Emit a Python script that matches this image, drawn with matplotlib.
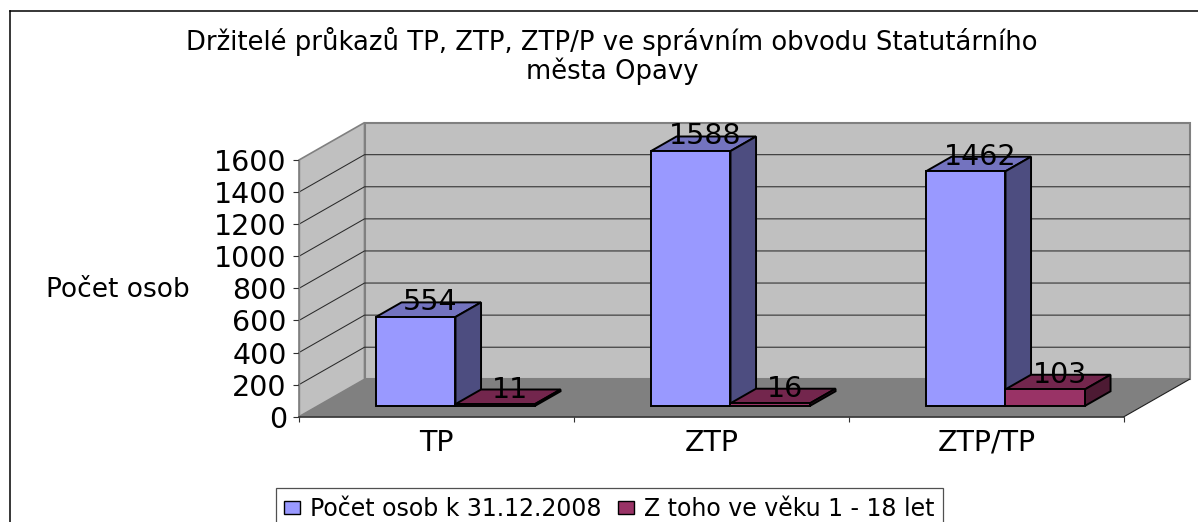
import matplotlib
matplotlib.use("Agg")
import matplotlib.pyplot as plt
from matplotlib.patches import Polygon, Patch
from matplotlib.lines import Line2D

FONT = ['DejaVu Sans']
plt.rcParams['font.family'] = FONT

title = "Držitelé průkazů TP, ZTP, ZTP/P ve správním obvodu Statutárního\nměsta Opavy"
ylabel = "Počet osob"
categories = ["TP", "ZTP", "ZTP/TP"]
total = [554, 1588, 1462]
minors = [11, 16, 103]
series_names = ["Počet osob k 31.12.2008", "Z toho ve věku 1 - 18 let"]
yticks = [0, 200, 400, 600, 800, 1000, 1200, 1400, 1600]

W, H = 1198, 522
fig = plt.figure(figsize=(W / 100, H / 100), dpi=100, facecolor='white')
ax = fig.add_axes([299 / W, 1 - 416.7 / H, 825 / W, 256.7 / H])
ax.set_xlim(0, 3)
ax.set_ylim(0, 1600)
ax.patch.set_visible(False)

# depth offsets, expressed in data units of the front plane
PX = 3 / 825
PY = 1600 / 256.7
DX, DY = 65.5 * PX, 37.4 * PY
BAR_W = 79.5 * PX
BAR_GAP = (275 - 2 * 79.5) / 2 * PX
D0, D1 = 0.29, 0.68


def poly(pts, fc, ec='none', lw=0, z=1):
    ax.add_patch(Polygon(pts, closed=True, fc=fc, ec=ec, lw=lw, zorder=z,
                         clip_on=False, joinstyle='miter'))


# walls and floor
WALL = '#C0C0C0'
EDGE = '#808080'
poly([(DX, DY), (3 + DX, DY), (3 + DX, 1600 + DY), (DX, 1600 + DY)], WALL, EDGE, 1.5, 1)
poly([(0, 0), (DX, DY), (DX, 1600 + DY), (0, 1600)], WALL, EDGE, 1.2, 1)
poly([(0, 0), (3, 0), (3 + DX, DY), (DX, DY)], '#808080', z=2)
for v in yticks[1:-1]:
    ax.plot([0, DX, 3 + DX], [v, v + DY, v + DY], color='#2A2A2A', lw=0.75, zorder=1.5,
            clip_on=False)
ax.plot([3, 3 + DX], [0, DY], color='#202020', lw=0.8, zorder=2.5, clip_on=False)


def bar3d(x, v, front, top, side, z):
    x0, x1 = x + D0 * DX, x + D0 * DX + BAR_W
    y0 = D0 * DY
    y1 = y0 + v
    dx, dy = (D1 - D0) * DX, (D1 - D0) * DY
    kw = dict(ec='black', lw=1.4, z=z)
    poly([(x0, y1), (x1, y1), (x1 + dx, y1 + dy), (x0 + dx, y1 + dy)], top, **kw)
    poly([(x1, y0), (x1 + dx, y0 + dy), (x1 + dx, y1 + dy), (x1, y1)], side, **kw)
    poly([(x0, y0), (x1, y0), (x1, y1), (x0, y1)], front, **kw)
    return (x0 + x1) / 2 + dx, y1 + dy


LABEL_FS = 20.5
LABEL_SHIFT = 11 * PX
for i, (a, b) in enumerate(zip(total, minors)):
    xa = i + BAR_GAP
    xb = xa + BAR_W
    lx, ly = bar3d(xa, a, '#9999FF', '#7373BF', '#4D4D80', 3 + i)
    ax.text(lx - LABEL_SHIFT, ly, str(a), ha='center', va='center', fontsize=LABEL_FS,
            color='black', zorder=10, clip_on=False)
    lx, ly = bar3d(xb, b, '#993366', '#73264D', '#4D1A33', 3.5 + i)
    ax.text(lx - LABEL_SHIFT, ly, str(b), ha='center', va='center', fontsize=LABEL_FS,
            color='black', zorder=10, clip_on=False)

# axes
for s in ('top', 'right'):
    ax.spines[s].set_visible(False)
ax.spines['left'].set_color(EDGE)
ax.spines['left'].set_linewidth(1.0)
ax.spines['bottom'].set_color('#303030')
ax.spines['bottom'].set_linewidth(1.2)
ax.set_yticks(yticks)
ax.set_xticks([0, 1, 2, 3])
ax.set_xticklabels([])
ax.set_xticks([0.5, 1.5, 2.5], minor=True)
ax.set_xticklabels(categories, minor=True)
ax.tick_params(axis='y', length=4.3, width=0.8, color='#303030', labelsize=LABEL_FS, pad=4.5)
ax.tick_params(axis='x', which='major', length=3.6, width=0.8, color='#303030')
ax.tick_params(axis='x', which='minor', length=0, labelsize=LABEL_FS, pad=8.5)

fig.text(612 / W, 1 - 56 / H, title, ha='center', va='center', fontsize=18.6,
         linespacing=1.08, color='black')
fig.text(117.5 / W, 1 - 290 / H, ylabel, ha='center', va='center', fontsize=19, color='black')

# frame
fig.add_artist(Line2D([9.5 / W, 1], [1 - 10.5 / H, 1 - 10.5 / H], color='black', lw=1.1))
fig.add_artist(Line2D([9.5 / W, 9.5 / W], [0, 1 - 10.5 / H], color='black', lw=1.1))

handles = [Patch(fc='#9999FF', ec='black', lw=1.0), Patch(fc='#993366', ec='black', lw=1.0)]
leg = fig.legend(handles, series_names, ncol=2, loc='upper left',
                 bbox_to_anchor=(275.5 / W, 1 - 488 / H), bbox_transform=fig.transFigure,
                 borderaxespad=0, fontsize=17, frameon=True, fancybox=False, edgecolor='#505050',
                 framealpha=1, handlelength=0.68, handleheight=0.47, handletextpad=0.42,
                 columnspacing=0.7, borderpad=0.36)
leg.get_frame().set_linewidth(0.9)

fig.savefig('out.png', dpi=100)
